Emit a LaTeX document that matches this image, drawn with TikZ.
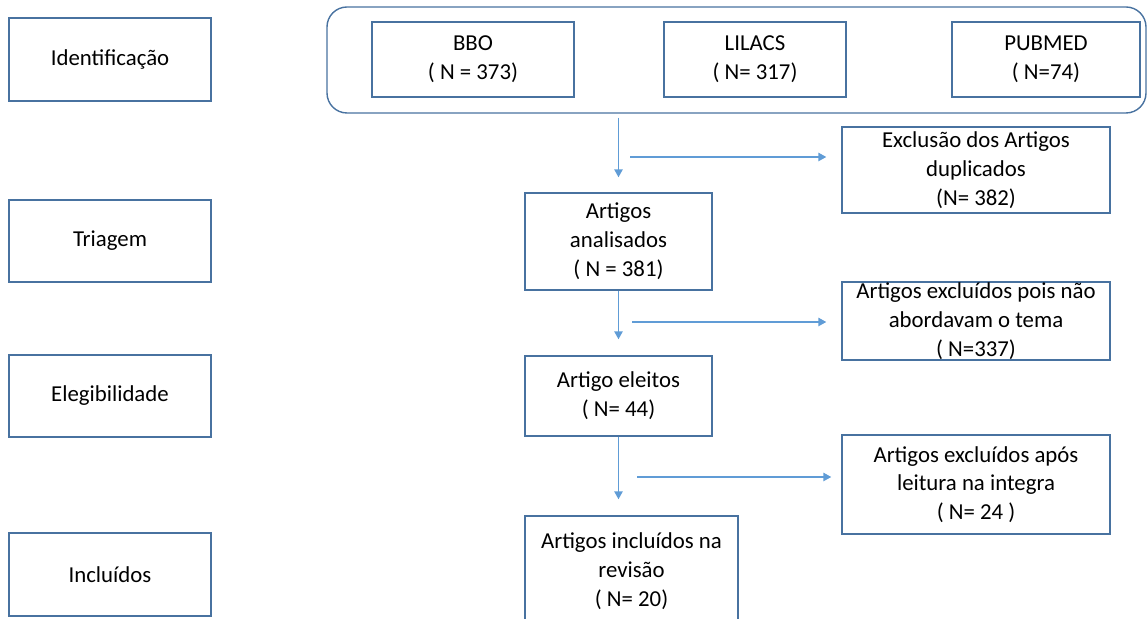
\documentclass[tikz,border=0pt]{standalone}
\usepackage{fontspec}
\setmainfont{Carlito}
\usepackage{tikz}
\usetikzlibrary{arrows.meta,calc}
\definecolor{figline}{RGB}{72,114,160}
\definecolor{figarrow}{RGB}{96,156,214}
\tikzset{
  bx/.style  ={draw=figline, line width=0.7pt, inner sep=0pt, align=center,
               font=\fontsize{11.4pt}{14.4pt}\selectfont},
  grp/.style ={draw=figline, line width=0.7pt, rounded corners=10pt, inner sep=0pt},
  ar/.style  ={draw=figarrow, line width=0.75pt, -{Triangle[length=4pt,width=4.2pt]}},
}
\begin{document}
\begin{tikzpicture}[x=0.5pt,y=-0.5pt]
  \useasboundingbox (0,0) rectangle (1148,619);
  \clip (0,0) rectangle (1148,619);
  % fases
  \node[bx,minimum width=101pt,minimum height=41.5pt] (ident) at (110,59.5) {Identificação};
  \node[bx,minimum width=101pt,minimum height=41pt] (triag) at (110,241) {Triagem};
  \node[bx,minimum width=101pt,minimum height=41pt] (eleg) at (110,396) {Elegibilidade};
  \node[bx,minimum width=101pt,minimum height=41.5pt] (inclu) at (110,574.5) {Incluídos};
  % bases
  \node[grp,minimum width=409.5pt,minimum height=53pt] (bases) at (736.5,60) {};
  \node[bx,minimum width=101pt,minimum height=37.5pt] (bbo) at (473,59.5) {BBO\\( N = 373)};
  \node[bx,minimum width=91pt,minimum height=37.5pt] (lilacs) at (755,59.5) {LILACS\\( N= 317)};
  \node[bx,minimum width=94pt,minimum height=37.5pt] (pubmed) at (1046,59.5) {PUBMED\\( N=74)};
  % fluxo
  \node[bx,minimum width=93.5pt,minimum height=48.5pt] (anal) at (618.5,241.5) {Artigos\\analisados\\( N = 381)};
  \node[bx,minimum width=93.5pt,minimum height=40pt] (eleit) at (618.5,396) {Artigo eleitos\\( N= 44)};
  \node[bx,minimum width=106.5pt,minimum height=55pt] (incl) at (631.5,571) {Artigos incluídos na\\revisão\\( N= 20)};
  % exclusoes
  \node[bx,minimum width=134pt,minimum height=43pt] (excdup) at (976,170) {Exclusão dos Artigos\\duplicados\\(N= 382)};
  \node[bx,minimum width=134pt,minimum height=39pt] (exctema) at (976,321) {Artigos excluídos pois não\\abordavam o tema\\( N=337)};
  \node[bx,minimum width=134pt,minimum height=49.5pt] (excint) at (976,484.5) {Artigos excluídos após\\leitura na integra\\( N= 24 )};
  \coordinate (h1) at (630,157);
  \coordinate (h2) at (632,322);
  \coordinate (h3) at (637,477);
  \draw[ar,shorten <=2pt,shorten >=7.5pt] (anal.north |- bases.south) -- (anal.north);
  \draw[ar,shorten >=7.5pt] (h1) -- (h1 -| excdup.west);
  \draw[ar,shorten >=8pt] (anal.south) -- (eleit.north);
  \draw[ar,shorten >=7.5pt] (h2) -- (h2 -| exctema.west);
  \draw[ar,shorten >=8pt] (eleit.south) -- (eleit.south |- incl.north);
  \draw[ar,shorten >=5pt] (h3) -- (h3 -| excint.west);
\end{tikzpicture}
\end{document}
